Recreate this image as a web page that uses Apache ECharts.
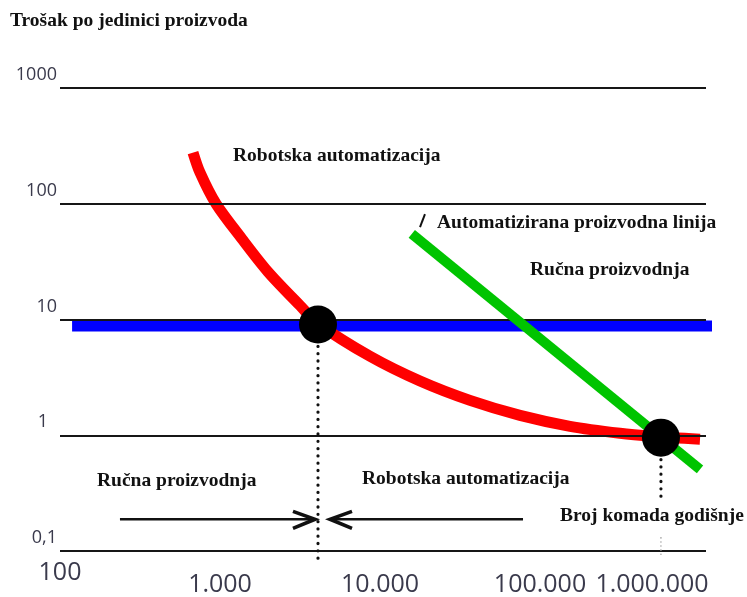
<!DOCTYPE html>
<html>
<head>
<meta charset="utf-8">
<script src="https://cdn.jsdelivr.net/npm/echarts@6/dist/echarts.min.js"></script>
<style>html,body{margin:0;padding:0;background:#fff}#c{width:747px;height:597px}</style>
</head>
<body>
<div id="c"></div>
<script>
// ---- data ----
const xTickValues = [100, 1000, 10000, 100000, 1000000];
const xTickLabels = ['100', '1.000', '10.000', '100.000', '1.000.000'];
const yTickValues = [0.1, 1, 10, 100, 1000];
const yTickLabels = ['0,1', '1', '10', '100', '1000'];

// Robotska automatizacija (red curve)
const robotX = [678, 750, 944, 1373, 1995, 3162, 4097, 8660, 17783, 36500, 75000, 154000, 316000, 508000, 1000000];
const robotY = [277, 186, 100, 49.6, 25.8, 13.2, 9.24, 4.81, 2.94, 2.0, 1.485, 1.195, 1.04, 0.98, 0.924];
// Automatizirana proizvodna linija (green line)
const lineX = [15800, 1000000];
const lineY = [55, 0.506];
// Ručna proizvodnja (blue line)
const manualX = [119, 1240000];
const manualY = [8.8, 8.8];
// leader tick next to the green label
const leaderX = [17783, 19100];
const leaderY = [62.9, 81.3];
// break-even points
const breakX = [4097, 570000];
const breakY = [9.06, 0.953];
// dotted drop lines
const dropLeftY = [9.06, 0.0845];
const dropRightY = [0.953, 0.291];
const dropRightFaintY = [0.13, 0.092];
// range arrows
const arrowY = 0.188;
const arrowLeftX = [237, 3926];
const arrowRightX = [4870, 78300];
const chevronLeftX = [2858, 3926, 2858];
const chevronRightX = [6683, 4870, 6683];
const chevronY = [0.220, 0.188, 0.157];

const zip = (xs, ys) => xs.map((x, i) => [x, ys[i]]);
const idxOf = (vals, v) => vals.findIndex(t => Math.abs(Math.log10(v) - Math.log10(t)) < 1e-6);

const axisFont = '"Open Sans", "Noto Sans", sans-serif';
const labelFont = 'bold 19.5px "Liberation Serif", "DejaVu Serif", serif';
const labelColor = '#111';
const tickColor = '#3a3a4c';

const xr = (pad) => ({ fontSize: 25, fontFamily: axisFont, color: tickColor, padding: pad });
const yr = (pad) => ({ fontSize: 18, fontFamily: axisFont, color: tickColor, padding: pad, lineHeight: 18 });

const chart = echarts.init(document.getElementById('c'), null, { renderer: 'canvas' });

function lineSeries(data, color, width, extra) {
  return Object.assign({
    type: 'line', data: data, symbol: 'none', clip: false, silent: true,
    lineStyle: { color: color, width: width, cap: 'butt' }, z: 2, animation: false
  }, extra || {});
}
const dotted = (w, dash, color) => ({ color: color, width: w, type: dash, cap: 'round' });

const option = {
  animation: false,
  grid: { left: 60, right: 41, top: 88, bottom: 43 },
  xAxis: {
    type: 'log', logBase: 10, min: 100, max: 1090000,
    axisLine: { show: false }, axisTick: { show: false }, splitLine: { show: false },
    axisLabel: {
      margin: 9, showMinLabel: true, showMaxLabel: true,
      formatter: function (v) {
        const i = idxOf(xTickValues, v);
        if (i < 0) return '';
        return '{x' + i + '|' + xTickLabels[i] + '}';
      },
      rich: {
        x0: xr([0, 0, 0, 0]),
        x1: xr([12, 0, 0, 0]),
        x2: xr([12, 0, 0, 0]),
        x3: xr([12, 0, 0, 0]),
        x4: xr([12, 96, 0, 0])
      }
    }
  },
  yAxis: {
    type: 'log', logBase: 10, min: 0.1, max: 1000, splitNumber: 4, z: 3,
    axisLine: { show: false }, axisTick: { show: false },
    splitLine: { show: true, lineStyle: { color: '#161616', width: 2 } },
    axisLabel: {
      margin: 3, verticalAlign: 'bottom',
      formatter: function (v) {
        const i = idxOf(yTickValues, v);
        if (i < 0) return '';
        return '{y' + i + '|' + yTickLabels[i] + '}';
      },
      rich: {
        y0: yr([0, 0, 8, 0]),
        y1: yr([0, 9, 8, 0]),
        y2: yr([0, 0, 8, 0]),
        y3: yr([0, 0, 8, 0]),
        y4: yr([0, 0, 8, 0])
      }
    }
  },
  graphic: [
    { type: 'text', left: 10, top: 11, style: { text: 'Trošak po jedinici proizvoda', font: labelFont, fill: labelColor } },
    { type: 'text', left: 233, top: 146, style: { text: 'Robotska automatizacija', font: labelFont, fill: labelColor } },
    { type: 'text', left: 437, top: 213, style: { text: 'Automatizirana proizvodna linija', font: labelFont, fill: labelColor } },
    { type: 'text', left: 530, top: 260, style: { text: 'Ručna proizvodnja', font: labelFont, fill: labelColor } },
    { type: 'text', left: 97, top: 471, style: { text: 'Ručna proizvodnja', font: labelFont, fill: labelColor } },
    { type: 'text', left: 362, top: 469, style: { text: 'Robotska automatizacija', font: labelFont, fill: labelColor } },
    { type: 'text', left: 560, top: 506, style: { text: 'Broj komada godišnje', font: labelFont, fill: labelColor } }
  ],
  series: [
    lineSeries(zip(manualX, manualY), '#0000ff', 11, { z: 1 }),
    lineSeries(zip(robotX, robotY), '#ff0000', 11, { smooth: 0.3, z: 2, lineStyle: { color: '#ff0000', width: 11, cap: 'butt', join: 'round' } }),
    lineSeries(zip(lineX, lineY), '#00c400', 10, { z: 4 }),
    lineSeries(zip(leaderX, leaderY), '#111', 2, { z: 4 }),
    lineSeries(zip([breakX[0], breakX[0]], dropLeftY), '#111', 3, { z: 4, lineStyle: dotted(3.2, [0.1, 7.2], '#111') }),
    lineSeries(zip([breakX[1], breakX[1]], dropRightY), '#111', 3, { z: 4, lineStyle: dotted(3.2, [0.1, 7.2], '#111') }),
    lineSeries(zip([breakX[1], breakX[1]], dropRightFaintY), '#999', 2, { z: 4, lineStyle: dotted(1.5, [0.1, 4], '#9a9a9a') }),
    lineSeries(zip(arrowLeftX, [arrowY, arrowY]), '#111', 2.6, { z: 4 }),
    lineSeries(zip(arrowRightX, [arrowY, arrowY]), '#111', 2.6, { z: 4 }),
    lineSeries(zip(chevronLeftX, chevronY), '#111', 3.6, { z: 4, lineStyle: { color: '#111', width: 3.6, join: 'miter' } }),
    lineSeries(zip(chevronRightX, chevronY), '#111', 3.6, { z: 4, lineStyle: { color: '#111', width: 3.6, join: 'miter' } }),
    {
      type: 'scatter', data: zip(breakX, breakY), symbol: 'circle', symbolSize: 38,
      itemStyle: { color: '#000', opacity: 1 }, z: 6, clip: false, silent: true, animation: false
    }
  ]
};
chart.setOption(option);
</script>
</body>
</html>
